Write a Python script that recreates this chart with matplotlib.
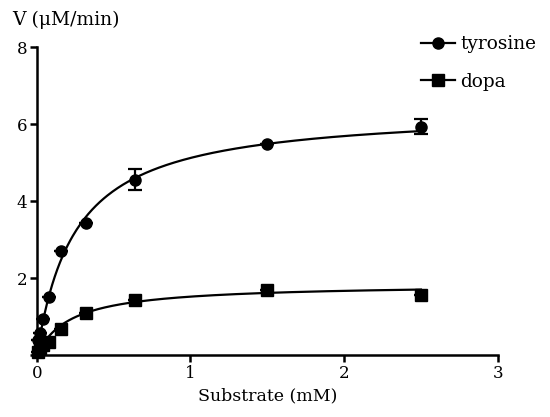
import numpy as np
import matplotlib
matplotlib.use("Agg")
import matplotlib.pyplot as plt

# Data
substrate = [0.005, 0.02, 0.04, 0.08, 0.16, 0.32, 0.64, 1.5, 2.5]
tyrosine = [0.40, 0.58, 0.94, 1.51, 2.71, 3.44, 4.56, 5.48, 5.93]
tyrosine_err = [0, 0, 0, 0, 0, 0, 0.28, 0, 0.20]
dopa = [0.08, 0.18, 0.26, 0.35, 0.67, 1.08, 1.43, 1.69, 1.56]
dopa_err = [0, 0, 0, 0, 0, 0, 0, 0, 0]

# Michaelis-Menten fit parameters (Vmax, Km) estimated from the drawn curves
tyr_fit = (6.4, 0.25)
dopa_fit = (1.85, 0.22)

x_ticks = [0, 1, 2, 3]
y_ticks = [0, 2, 4, 6, 8]
y_ticklabels = ["", "2", "4", "6", "8"]

plt.rcParams['font.family'] = ['DejaVu Serif']

fig = plt.figure(figsize=(5.5, 4.17), dpi=100)
ax = fig.add_axes([0.067, 0.1487, 0.838, 0.7383])

xs = np.linspace(0, max(substrate), 300)
for (vmax, km) in (tyr_fit, dopa_fit):
    ax.plot(xs, vmax * xs / (km + xs), color='black', lw=1.6, clip_on=False, zorder=2)

ax.errorbar(substrate, tyrosine, yerr=tyrosine_err, fmt='o', color='black',
            ms=8, capsize=5, elinewidth=1.6, capthick=1.6, clip_on=False, zorder=3)
ax.errorbar(substrate, dopa, yerr=dopa_err, fmt='s', color='black',
            ms=8, capsize=5, elinewidth=1.6, capthick=1.6, clip_on=False, zorder=3)

# legend handles
h1, = ax.plot([], [], '-o', color='black', ms=8, lw=1.6, label='tyrosine')
h2, = ax.plot([], [], '-s', color='black', ms=8, lw=1.6, label='dopa')
leg = ax.legend(handles=[h1, h2], frameon=False, fontsize=13.3, handlelength=1.85,
                handletextpad=0.3, labelspacing=1.05, loc='upper left',
                bbox_to_anchor=(0.797, 1.092), bbox_transform=ax.transAxes)

ax.set_xlim(0, 3)
ax.set_ylim(0, 8)
ax.set_xticks(x_ticks)
ax.set_yticks(y_ticks)
ax.set_yticklabels(y_ticklabels)
for s in ['top', 'right']:
    ax.spines[s].set_visible(False)
for s in ['left', 'bottom']:
    ax.spines[s].set_linewidth(1.8)
ax.tick_params(width=1.8, length=5, labelsize=12, pad=2)

ax.set_xlabel('Substrate (mM)', fontsize=12.5, labelpad=4)
fig.text(0.022, 0.952, 'V (μM/min)', fontsize=13.5, va='center', ha='left')

fig.savefig('out.png', dpi=100)
